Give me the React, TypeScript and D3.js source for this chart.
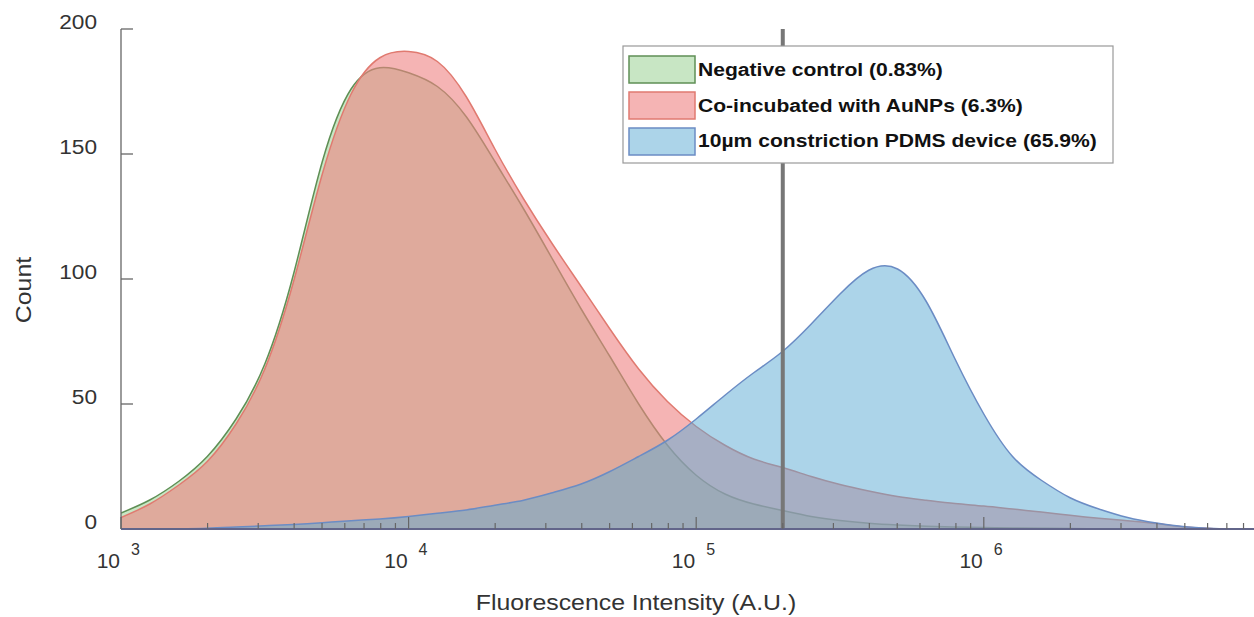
import React from "react";
import * as d3 from "d3";

// log10 of fluorescence intensity (grid of the histogram)
const logIntensity = [
  3.0, 3.1, 3.2, 3.3, 3.4, 3.5, 3.6, 3.7, 3.8, 3.9,
  4.0, 4.1, 4.2, 4.3, 4.4, 4.5, 4.6, 4.7, 4.8, 4.9,
  5.0, 5.1, 5.2, 5.3, 5.4, 5.5, 5.6, 5.7, 5.8, 5.9,
  6.0, 6.1, 6.2, 6.3, 6.4, 6.5, 6.6, 6.7, 6.8, 6.9,
];

const negativeControl = [
  6.4, 11.6, 19, 29, 44, 66, 102, 147, 176, 184.5,
  182.5, 177, 165, 147, 128, 108, 88, 69, 50, 33.5,
  21.5, 14, 10, 7.4, 5, 3.4, 2.3, 1.6, 1.1, 0.8,
  0.6, 0.4, 0.3, 0.2, 0.1, 0.05, 0, 0, 0, 0,
];

const coIncubated = [
  4.6, 10, 17.5, 27, 42, 64, 99, 142, 174, 188.5,
  191, 187, 173, 152, 132, 114, 97, 80, 64, 51,
  41, 33.5, 28, 24.6, 21, 17.8, 15.2, 13, 11.5, 10.2,
  9.2, 8, 6.8, 5.5, 4.3, 3.3, 2.2, 0.8, 0.15, 0,
];

const pdmsDevice = [
  0, 0, 0.1, 0.3, 0.8, 1.3, 1.8, 2.5, 3.3, 4,
  5, 6.3, 7.6, 9.5, 11.5, 14.5, 18, 23, 29, 35.5,
  44, 53.5, 62.5, 71, 82, 94, 103.5, 104, 91, 68,
  46, 29, 19.5, 12.5, 8, 4.6, 2.4, 0.9, 0.2, 0,
];

const seriesNames = [
  "Negative control (0.83%)",
  "Co-incubated with AuNPs (6.3%)",
  "10µm constriction PDMS device (65.9%)",
];
const yTicks = [0, 50, 100, 150, 200];
const xMajorExponents = [3, 4, 5, 6];
const threshold = 2e5;
const xDomain = [1e3, 8.7e6];
const yDomain = [0, 200];

const fills = ["#a3d59d", "#ee8282", "#5aaad3"];
const fillOpacities = [0.6, 0.6, 0.5];
const strokes = ["#5f8f55", "#e07a70", "#6b8cc4"];

export default function App() {
  const W = 1254;
  const H = 617;
  const x = d3.scaleLog().domain(xDomain).range([121, 1254]);
  const y = d3.scaleLinear().domain(yDomain).range([529, 29]);

  const series = [negativeControl, coIncubated, pdmsDevice].map((vals) =>
    vals.map((v, i) => ({ x: Math.pow(10, logIntensity[i]), y: v }))
  );

  const curve = d3.curveNatural;
  const area = d3
    .area<{ x: number; y: number }>()
    .x((d) => x(d.x))
    .y0(y(0))
    .y1((d) => y(d.y))
    .curve(curve);
  const line = d3
    .line<{ x: number; y: number }>()
    .x((d) => x(d.x))
    .y((d) => y(d.y))
    .curve(curve);

  const minorTicks: number[] = [];
  for (let e = 3; e <= 6; e++) {
    for (let m = 2; m <= 9; m++) {
      const v = m * Math.pow(10, e);
      if (v <= xDomain[1]) minorTicks.push(v);
    }
  }

  const font = "'Liberation Sans', Arial, Helvetica, sans-serif";

  return (
    <svg
      width={W}
      height={H}
      style={{ position: "absolute", left: 0, top: 0, background: "#fff" }}
      fontFamily={font}
    >
      <defs>
        <clipPath id="plot">
          <rect x={121} y={0} width={1133} height={529} />
        </clipPath>
      </defs>
      <g clipPath="url(#plot)">
        {series.map((s, i) => (
          <g key={i}>
            <path d={area(s) || ""} fill={fills[i]} fillOpacity={fillOpacities[i]} />
            <path d={line(s) || ""} fill="none" stroke={strokes[i]} strokeWidth={1.5} />
          </g>
        ))}
      </g>

      {/* threshold line */}
      <line
        x1={x(threshold)}
        x2={x(threshold)}
        y1={y(200)}
        y2={y(0)}
        stroke="#777"
        strokeWidth={4}
      />

      {/* y axis */}
      <line x1={121} x2={121} y1={y(200)} y2={y(0)} stroke="#666" strokeWidth={1.3} />
      {yTicks.map((t) => (
        <g key={t}>
          <line x1={121} x2={133} y1={y(t)} y2={y(t)} stroke="#666" strokeWidth={1.3} />
          <text
            transform={`translate(97,${y(t) - 7}) scale(1.08,1)`}
            dy="0.35em"
            textAnchor="end"
            fontSize={21}
            fill="#333"
          >
            {t}
          </text>
        </g>
      ))}

      {/* x axis */}
      <line x1={121} x2={1254} y1={y(0)} y2={y(0)} stroke="#62658a" strokeWidth={2} />
      {minorTicks.map((t) => (
        <line key={t} x1={x(t)} x2={x(t)} y1={y(0)} y2={y(0) - 6} stroke="#666" strokeWidth={1.2} />
      ))}
      {xMajorExponents.map((e) => {
        const px = x(Math.pow(10, e));
        return (
          <g key={e}>
            <line x1={px} x2={px} y1={y(0)} y2={y(0) - 12} stroke="#666" strokeWidth={1.2} />
            <text x={px - 1} y={568} textAnchor="end" fontSize={21} fill="#333">
              10
            </text>
            <text x={px + 10} y={555} fontSize={16} fill="#333">
              {e}
            </text>
          </g>
        );
      })}

      <text
        transform="translate(636,610) scale(1.13,1)"
        textAnchor="middle"
        fontSize={22}
        fill="#333"
      >
        Fluorescence Intensity (A.U.)
      </text>
      <text
        transform="translate(31,290) rotate(-90) scale(1.13,1)"
        textAnchor="middle"
        fontSize={22}
        fill="#333"
      >
        Count
      </text>

      {/* legend */}
      <g>
        <rect x={623} y={46} width={490} height={117} fill="#fff" stroke="#999" strokeWidth={1.2} />
        {seriesNames.map((n, i) => (
          <g key={n}>
            <rect
              x={629}
              y={56 + i * 36}
              width={66}
              height={27}
              fill={fills[i]}
              fillOpacity={fillOpacities[i]}
              stroke={strokes[i]}
              strokeWidth={1.5}
            />
            <text
              transform={`translate(698,${76 + i * 35.5}) scale(1.11,1)`}
              fontSize={19}
              fontWeight="bold"
              fill="#111"
            >
              {n}
            </text>
          </g>
        ))}
      </g>
    </svg>
  );
}
